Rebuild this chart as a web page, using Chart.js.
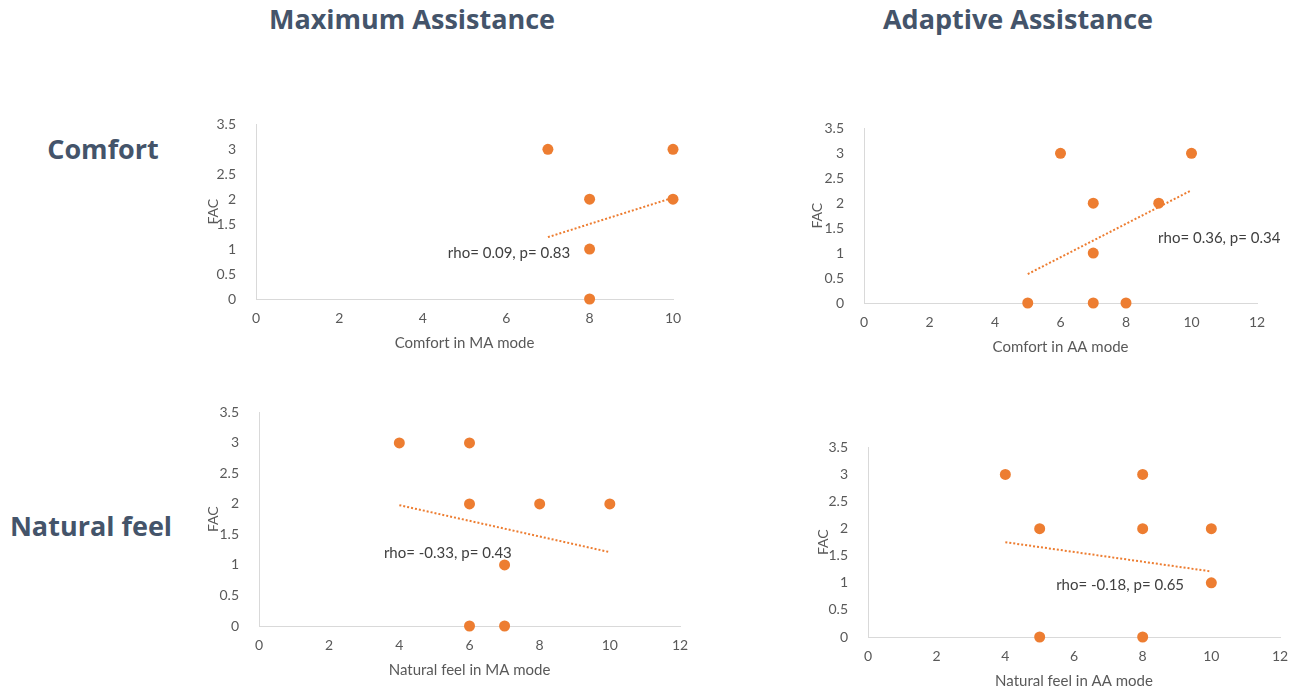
<!DOCTYPE html>
<html>
<head>
<meta charset="utf-8">
<title>FAC vs comfort and natural feel</title>
<script src="https://cdn.jsdelivr.net/npm/chart.js@4.4.1/dist/chart.umd.min.js"></script>
<style>
  body { margin: 0; background: #fff; width: 1303px; height: 694px; position: relative; overflow: hidden; font-family: "Open Sans", sans-serif; }
  .head { position: absolute; color: #44546A; font-weight: 700; font-size: 27px; line-height: 1; white-space: nowrap; transform: translate(-50%, -50%); }
  .box { position: absolute; }
</style>
</head>
<body>
<div class="head" style="left:412px; top:18px;">Maximum Assistance</div>
<div class="head" style="left:1018px; top:18px;">Adaptive Assistance</div>
<div class="head" style="left:103px; top:148px;">Comfort</div>
<div class="head" style="left:91px; top:525px;">Natural feel</div>

<div class="box" id="box1"><canvas id="chart1"></canvas></div>
<div class="box" id="box2"><canvas id="chart2"></canvas></div>
<div class="box" id="box3"><canvas id="chart3"></canvas></div>
<div class="box" id="box4"><canvas id="chart4"></canvas></div>

<script>
'use strict';

// values
var maComfortX   = [7, 10, 8, 10, 8, 8];
var maComfortFac = [3, 3, 2, 2, 1, 0];
var aaComfortX   = [6, 10, 7, 9, 7, 5, 7, 8];
var aaComfortFac = [3, 3, 2, 2, 1, 0, 0, 0];
var maNaturalX   = [4, 6, 6, 8, 10, 7, 6, 7];
var maNaturalFac = [3, 3, 2, 2, 2, 1, 0, 0];
var aaNaturalX   = [4, 8, 5, 8, 10, 10, 5, 8];
var aaNaturalFac = [3, 3, 2, 2, 2, 1, 0, 0];

// trend line ends (x, FAC)
var maComfortTrend = [[7, 1.24], [10, 2.03]];
var aaComfortTrend = [[5, 0.58], [10, 2.26]];
var maNaturalTrend = [[4, 1.98], [10, 1.21]];
var aaNaturalTrend = [[4, 1.75], [10, 1.21]];

var statTexts = ['rho= 0.09, p= 0.83', 'rho= 0.36, p= 0.34', 'rho= -0.33, p= 0.43', 'rho= -0.18, p= 0.65'];
var xTitles = ['Comfort in MA mode', 'Comfort in AA mode', 'Natural feel in MA mode', 'Natural feel in AA mode'];
var xMaxes = [10, 12, 12, 12];
var yMax = 3.5;

// where the plot areas sit on the page, and where the stat text is anchored (data units)
var plots = [
  { l: 256, t: 119, r: 673,  b: 299, yTitlePad: 10, note: [4.6, 0.91] },
  { l: 864, t: 123, r: 1257, b: 303, yTitlePad: 6,  note: [8.98, 1.30] },
  { l: 259, t: 407, r: 680,  b: 626, yTitlePad: 7,  note: [3.56, 1.20] },
  { l: 868, t: 442, r: 1280, b: 637, yTitlePad: 8,  note: [5.48, 0.95] }
];

var ORANGE = '#ED7D31';
var AXIS = '#D9D9D9';
var TEXT = '#595959';
var FONT = 'Lato, "Open Sans", sans-serif';
var Y_AXIS_W = 60, X_AXIS_H = 60, PAD_TOP = 15, PAD_RIGHT = 25;

function toPoints(xs, ys) {
  return xs.map(function (x, i) { return { x: x, y: ys[i] }; });
}

function pairsToPoints(pairs) {
  return pairs.map(function (p) { return { x: p[0], y: p[1] }; });
}

var statLabel = {
  id: 'statLabel',
  afterDatasetsDraw: function (chart, args, opts) {
    var ctx = chart.ctx;
    ctx.save();
    ctx.font = '15px ' + FONT;
    ctx.fillStyle = '#404040';
    ctx.textAlign = 'left';
    ctx.textBaseline = 'middle';
    ctx.fillText(opts.text, chart.scales.x.getPixelForValue(opts.at[0]), chart.scales.y.getPixelForValue(opts.at[1]));
    ctx.restore();
  }
};

function renderChart(n, xs, ys, trend) {
  var p = plots[n];
  var left = p.l - Y_AXIS_W, top = p.t - PAD_TOP;
  var w = p.r - left + PAD_RIGHT, h = p.b - top + X_AXIS_H;
  var box = document.getElementById('box' + (n + 1));
  box.style.left = left + 'px';
  box.style.top = top + 'px';
  var canvas = document.getElementById('chart' + (n + 1));
  canvas.width = w;
  canvas.height = h;
  canvas.style.width = w + 'px';
  canvas.style.height = h + 'px';

  var tickFont = { family: FONT, size: 14 };

  new Chart(canvas.getContext('2d'), {
    type: 'scatter',
    data: {
      datasets: [
        {
          label: 'FAC',
          data: toPoints(xs, ys),
          backgroundColor: ORANGE,
          borderWidth: 0,
          pointRadius: 5.5,
          clip: false,
          order: 1
        },
        {
          label: 'Trend',
          data: pairsToPoints(trend),
          showLine: true,
          borderColor: ORANGE,
          borderWidth: 2,
          borderDash: [2, 2],
          pointRadius: 0,
          clip: false,
          order: 2
        }
      ]
    },
    options: {
      responsive: false,
      animation: false,
      events: [],
      layout: { padding: { top: PAD_TOP, right: PAD_RIGHT, left: 0, bottom: 0 } },
      plugins: {
        legend: { display: false },
        tooltip: { enabled: false },
        statLabel: { text: statTexts[n], at: p.note }
      },
      scales: {
        x: {
          type: 'linear',
          min: 0,
          max: xMaxes[n],
          grid: { display: false },
          border: { display: true, color: AXIS, width: 1 },
          ticks: { stepSize: 2, padding: 3, color: TEXT, font: tickFont },
          title: { display: true, text: xTitles[n], color: TEXT, font: { family: FONT, size: 15 }, padding: { top: 0, bottom: 7 } },
          afterFit: function (scale) { scale.height = X_AXIS_H; }
        },
        y: {
          min: 0,
          max: yMax,
          grid: { display: false },
          border: { display: true, color: AXIS, width: 1 },
          ticks: {
            stepSize: 0.5, padding: 12, color: TEXT, font: tickFont,
            callback: function (v) { return String(v); }
          },
          title: { display: true, text: 'FAC', color: TEXT, font: tickFont, padding: { top: p.yTitlePad - 1, bottom: 0 } },
          afterFit: function (scale) { scale.width = Y_AXIS_W; }
        }
      }
    },
    plugins: [statLabel]
  });
}

renderChart(0, maComfortX, maComfortFac, maComfortTrend);
renderChart(1, aaComfortX, aaComfortFac, aaComfortTrend);
renderChart(2, maNaturalX, maNaturalFac, maNaturalTrend);
renderChart(3, aaNaturalX, aaNaturalFac, aaNaturalTrend);
</script>
</body>
</html>
